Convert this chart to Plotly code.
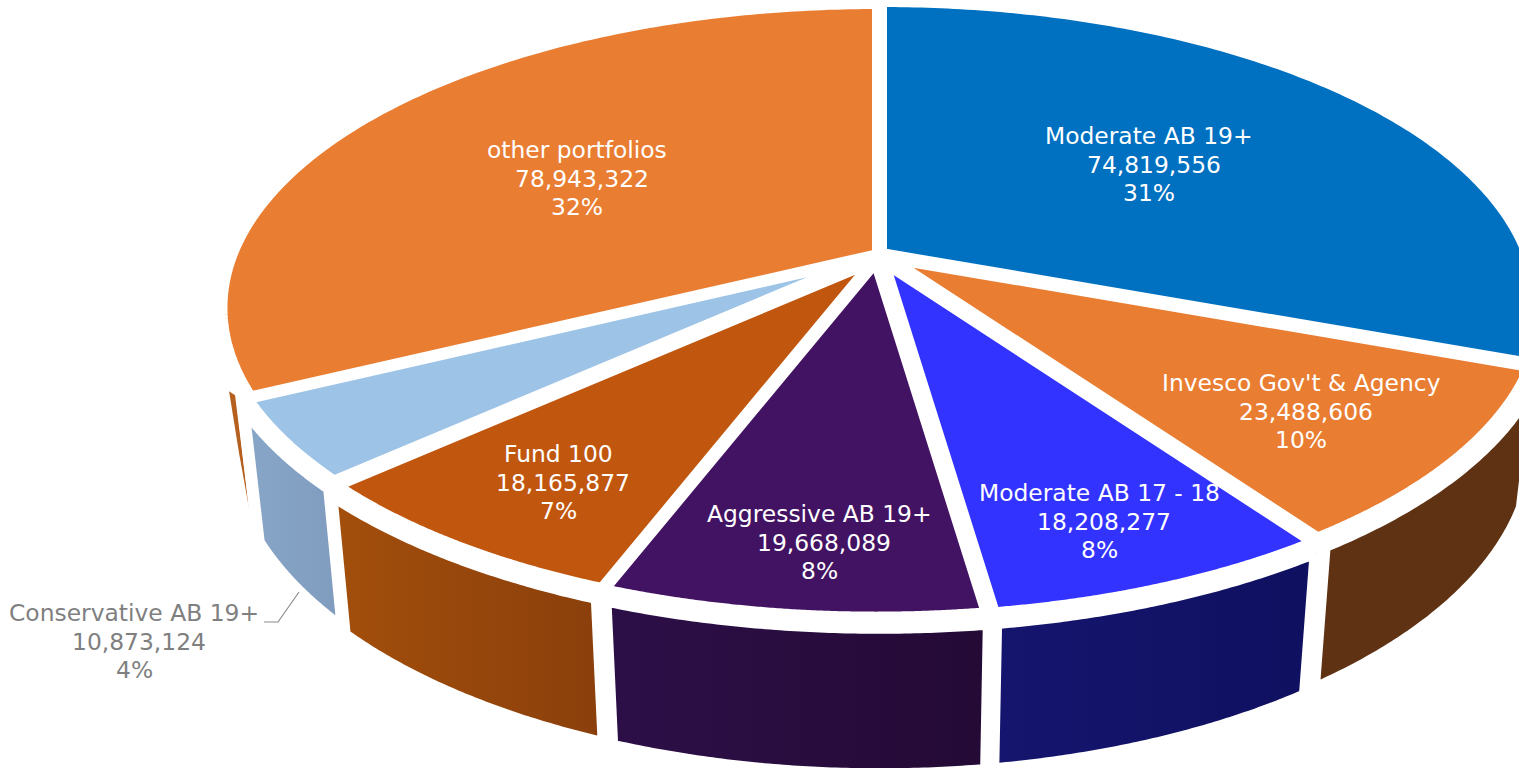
import numpy as np
import plotly.graph_objects as go

# ---- data ----
categories = ["Moderate AB 19+", "Invesco Gov't & Agency", "Moderate AB 17 - 18", "Aggressive AB 19+",
              "Fund 100", "Conservative AB 19+", "other portfolios"]
values = [74819556, 23488606, 18208277, 19668089, 18165877, 10873124, 78943322]
percent_labels = ["31%", "10%", "8%", "8%", "7%", "4%", "32%"]

# ---- styles ----
face_colors = ["#0070C0", "#E97D31", "#3333FF", "#431363", "#C1560F", "#9DC3E6", "#E97D31"]
wall_colors = [("#005A9A", "#005A9A"), ("#5F3213", "#5F3213"), ("#15156F", "#101060"), ("#2D0F48", "#240A35"),
               ("#A34F0C", "#8A3F0B"), ("#88A6C8", "#7F9CBE"), ("#B5601F", "#B5601F")]
label_colors = ["white", "white", "white", "white", "white", "#7F7F7F", "white"]
label_centres = [(1149, 136), (1301, 383), (1099, 493), (819, 514), (558, 454), (134, 613), (577, 150)]

# ---- projection of the tilted pie ----
slice_centres = [(881, 254), (886, 257), (883, 261), (876, 261), (875, 260), (873.5, 256), (878, 256)]
wall_shift = [0, -2, -3, 3.5, 2, 5, 0]
A, B, K = 647.0, 296.0, 0.17
STROKE = 12
WALL_PAD = np.radians(0.25)
LINE_STEP = 28.7
NUMBER_SHIFT = 5
# sliver of the last slice's wall, relative to the slice's front corner
SLIVER_DX = [-22, -16, -2, -12]
SLIVER_DY = [-7, -3, 110, 55]


def project(theta):
    X, Y = np.sin(theta), -np.cos(theta)
    d = 1 - K * Y
    return A * X / d, B * Y / d, 1 / d


shares = np.array(values, dtype=float) / sum(values)
edges = np.concatenate([[0], np.cumsum(shares)]) * 2 * np.pi

fig = go.Figure()

# the last slice only shows a sliver of wall
last = len(values) - 1
corner_x, corner_y, _ = project(edges[last])
cx, cy = slice_centres[last]
sx = [cx + corner_x + d for d in SLIVER_DX] + [cx + corner_x + SLIVER_DX[0]]
sy = [cy + corner_y + d for d in SLIVER_DY] + [cy + corner_y + SLIVER_DY[0]]
fig.add_trace(go.Scatter(x=sx, y=sy, mode="lines", fill="toself", fillcolor=wall_colors[last][0],
                         line=dict(color=wall_colors[last][0], width=0), hoverinfo="skip", showlegend=False))

# side walls first, back slices behind front slices
wall_order = [0, 1, 5, 2, 4, 3]
for i in wall_order:
    t1, t2 = edges[i] + WALL_PAD, edges[i + 1] - WALL_PAD
    a = max(t1, np.pi / 2)
    th = np.linspace(a, t2, 80)
    px, py, s = project(th)
    cx, cy = slice_centres[i]
    cx += wall_shift[i]
    tx = cx + 1.015 * px
    ty = cy + 1.015 * py + 4 * s
    bx = cx + 0.99 * px
    by = cy + 0.99 * py + 133 * s
    x = np.concatenate([tx, bx[::-1], tx[:1]])
    y = np.concatenate([ty, by[::-1], ty[:1]])
    c0, c1 = wall_colors[i]
    fig.add_trace(go.Scatter(x=x, y=y, mode="lines", fill="toself",
                             fillgradient=dict(type="horizontal", colorscale=[[0, c0], [1, c1]]),
                             line=dict(color="white", width=STROKE, simplify=False),
                             hoverinfo="skip", showlegend=False))

# top faces
for i in [6, 0, 1, 5, 4, 2, 3]:
    th = np.linspace(edges[i], edges[i + 1], 160)
    px, py, _ = project(th)
    cx, cy = slice_centres[i]
    x = np.concatenate([[cx], cx + px, [cx]])
    y = np.concatenate([[cy], cy + py, [cy]])
    fig.add_trace(go.Scatter(x=x, y=y, mode="lines", fill="toself", fillcolor=face_colors[i],
                             line=dict(color="white", width=STROKE, simplify=False), hoverinfo="skip",
                             name=categories[i], showlegend=False))

# leader line of the outside label
fig.add_trace(go.Scatter(x=[264, 278, 299], y=[622, 622, 592], mode="lines",
                         line=dict(color="#8C8C8C", width=1.2), hoverinfo="skip", showlegend=False))

# data labels, one text per line
for name, val, pct, col, (lx, ly) in zip(categories, values, percent_labels, label_colors, label_centres):
    for j, line in enumerate([name, f"{val:,}", pct]):
        fig.add_annotation(x=lx, y=ly + j * LINE_STEP, xshift=NUMBER_SHIFT if j == 1 else 0,
                           text=line, showarrow=False, xanchor="center", yanchor="middle",
                           font=dict(family="DejaVu Sans", size=23.4, color=col))

fig.update_layout(
    width=1519, height=768, margin=dict(l=0, r=0, t=0, b=0),
    paper_bgcolor="white", plot_bgcolor="white", showlegend=False,
    xaxis=dict(range=[0, 1519], visible=False, fixedrange=True),
    yaxis=dict(range=[768, 0], visible=False, fixedrange=True),
)

fig.write_html("out.html", config={"displayModeBar": False},
               post_script="document.body.style.margin='0';document.body.style.overflow='hidden';")
